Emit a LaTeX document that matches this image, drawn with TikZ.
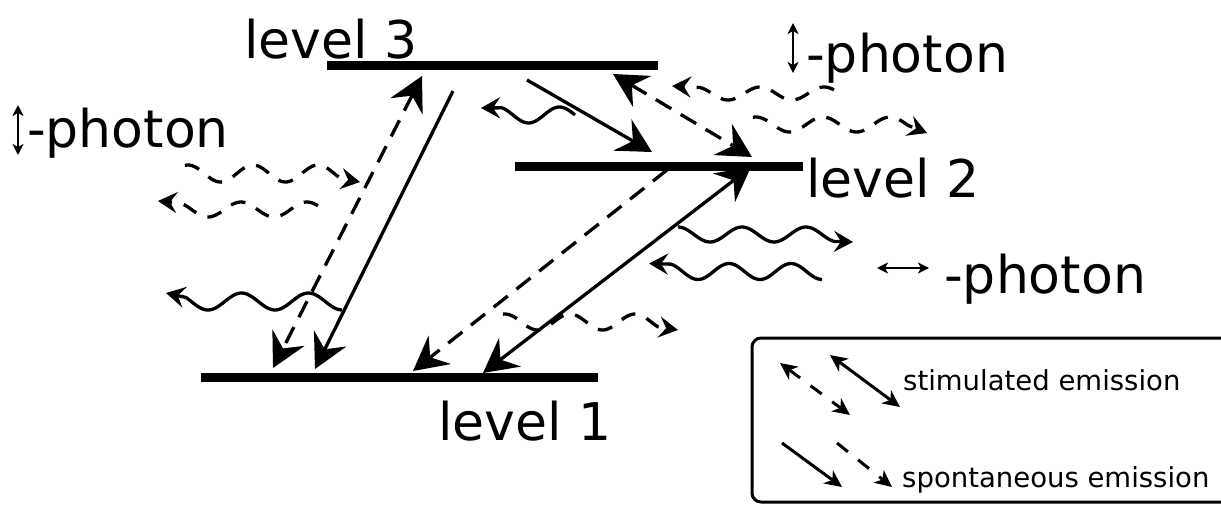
\documentclass[tikz,border=0pt]{standalone}
\usepackage{fontspec}
\setmainfont{DejaVu Sans}
\usetikzlibrary{arrows.meta}
\tikzset{
  BT/.tip={Stealth[length=34pt,width=36pt,inset=12pt]},
  WT/.tip={Stealth[length=19pt,width=21pt,inset=7pt]},
  LT/.tip={Stealth[length=17pt,width=16pt,inset=5pt]},
  SY/.tip={Stealth[length=11pt,width=11pt,inset=3pt]},
  lvl/.style={line width=9pt},
  sol/.style={line width=3.3pt},
  dsh/.style={line width=3.3pt, dash pattern=on 18pt off 11pt},
  wave/.style={line width=3.3pt, line join=round},
  dwave/.style={line width=3.3pt, dash pattern=on 15pt off 12pt},
  lsol/.style={line width=3pt},
  ldsh/.style={line width=3pt, dash pattern=on 14pt off 13pt},
  sym/.style={line width=2.4pt},
  big/.style={inner sep=0pt, anchor=base west, font=\fontsize{52}{60}\selectfont},
  small/.style={inner sep=0pt, anchor=base west, font=\fontsize{27.5}{32}\selectfont},
}
\begin{document}
\begin{tikzpicture}[x=1pt,y=-1pt]
\useasboundingbox (0,0) rectangle (1221,504);
\clip (0,0) rectangle (1221,504);
% levels
\coordinate (L3a) at (327,65.5);  \coordinate (L3b) at (658,65.5);
\coordinate (L2a) at (515,166.5); \coordinate (L2b) at (803,166.5);
\coordinate (L1a) at (201,377.5); \coordinate (L1b) at (598,377.5);
\draw[lvl] (L3a) -- (L3b);
\draw[lvl] (L2a) -- (L2b);
\draw[lvl] (L1a) -- (L1b);
\node[big] (t3) at (244,58) {level 3};
\node[big] (t2) at (806,197) {level 2};
\node[big] (t1) at (438,440) {level 1};
% transitions
\coordinate (a1s) at (422,76);  \coordinate (a1e) at (273,368);
\coordinate (a2s) at (453,91);  \coordinate (a2e) at (315,369);
\coordinate (a3s) at (483,373); \coordinate (a3e) at (751,167);
\coordinate (a4s) at (667,170); \coordinate (a4e) at (413,371);
\coordinate (a5s) at (527,80);  \coordinate (a5e) at (652,152);
\coordinate (a6s) at (613,74);  \coordinate (a6e) at (752,157);
\draw[dsh, BT-BT] (a1s) -- (a1e);
\draw[sol, -BT] (a2s) -- (a2e);
\draw[sol, BT-BT] (a3s) -- (a3e);
\draw[dsh, -BT] (a4s) -- (a4e);
\draw[sol, -BT] (a5s) -- (a5e);
\draw[dsh, BT-BT] (a6s) -- (a6e);
% solid photons
\draw[wave, -WT] plot[domain=342:186, samples=70] (\x,{301.5+8.5*cos((342-\x)/67*360)}) -- (166,293);
\draw[wave, -WT] plot[domain=575:502, samples=40] (\x,{115-8*sin((575-\x)/62*360)}) -- (481,108);
\draw[wave, -WT] plot[domain=678:834, samples=70] (\x,{234.5-7.5*cos((\x-678)/64*360)}) -- (853,242);
\draw[wave, -WT] plot[domain=822:671, samples=70] (\x,{271.5+8*cos((822-\x)/62*360)}) -- (649,263.5);
% dashed photons
\draw[dwave, -WT] plot[domain=185:341, samples=70] (\x,{173.5-8.5*cos((\x-188)/65*360)}) -- (360,182);
\draw[dwave, -WT] plot[domain=318:180, samples=70] (\x,{209.5-7.5*cos((\x-307)/66*360)}) -- (158,201);
\draw[dwave, -WT] plot[domain=834:700, samples=70] (\x,{93.5-6.5*cos((\x-824)/64*360)}) -- (672,86);
\draw[dwave, -WT] plot[domain=753:908, samples=70] (\x,{124.5-7.5*cos((\x-756)/67*360)}) -- (927,133);
\draw[dwave, -WT] plot[domain=503:658, samples=70] (\x,{322-8*cos((\x-505)/65*360)}) -- (678,330);
% polarisation labels
\draw[sym, SY-SY] (18,105) -- (18,155);
\node[big] (p1) at (27,147) {-photon};
\draw[sym, SY-SY] (793,23) -- (793,73);
\node[big] (p2) at (806,72) {-photon};
\draw[sym, SY-SY] (877,268) -- (929,268);
\node[big] (p3) at (944,293) {-photon};
% legend
\draw[line width=3pt, rounded corners=9pt] (752,338) rectangle (1240,502);
\draw[ldsh, LT-LT] (780,363) -- (850,415);
\draw[lsol, LT-LT] (830,355) -- (900,407);
\node[small] (s1) at (903,390) {stimulated emission};
\draw[lsol, -LT] (782,443) -- (842,487);
\draw[ldsh, -LT] (837,443) -- (892,487);
\node[small] (s2) at (902,487) {spontaneous emission};
\end{tikzpicture}
\end{document}
